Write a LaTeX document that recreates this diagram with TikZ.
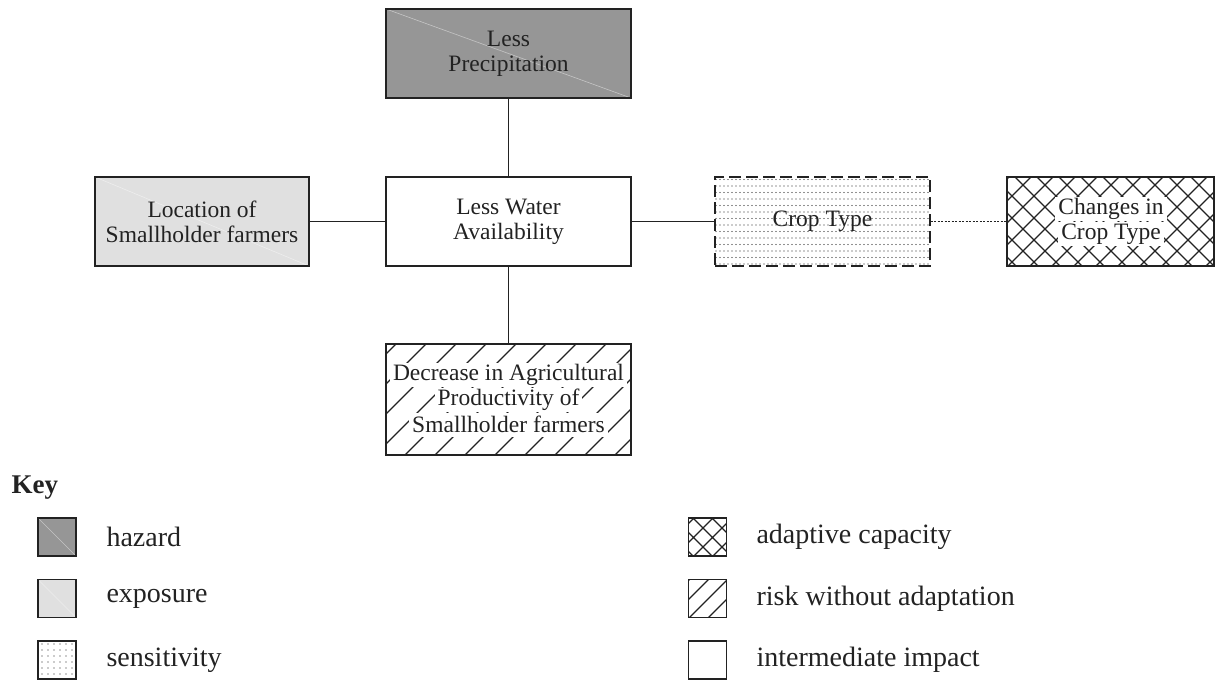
\documentclass[tikz,border=0pt]{standalone}
\usepackage{fontspec}
\setmainfont{Liberation Serif}
\usetikzlibrary{patterns}
\pgfdeclarepatternformonly{boxdots}{\pgfqpoint{-1pt}{-1pt}}{\pgfqpoint{3pt}{5.5pt}}{\pgfqpoint{4pt}{6.5pt}}{%
  \pgfpathcircle{\pgfqpoint{0pt}{0pt}}{0.7pt}\pgfusepath{fill}}
\pgfdeclarepatternformonly{keydots}{\pgfqpoint{-1pt}{-1pt}}{\pgfqpoint{5pt}{5pt}}{\pgfqpoint{6pt}{6pt}}{%
  \pgfpathcircle{\pgfqpoint{0pt}{0pt}}{0.7pt}\pgfusepath{fill}}
\pgfdeclarepatternformonly{xhatch}{\pgfqpoint{-1pt}{-1pt}}{\pgfqpoint{23pt}{23pt}}{\pgfqpoint{22pt}{22pt}}{%
  \pgfsetlinewidth{1.3pt}%
  \pgfpathmoveto{\pgfqpoint{0pt}{0pt}}\pgfpathlineto{\pgfqpoint{22.1pt}{22.1pt}}%
  \pgfpathmoveto{\pgfqpoint{0pt}{22pt}}\pgfpathlineto{\pgfqpoint{22.1pt}{-0.1pt}}%
  \pgfusepath{stroke}}
\pgfdeclarepatternformonly{keyxhatch}{\pgfqpoint{-1pt}{-1pt}}{\pgfqpoint{20pt}{20pt}}{\pgfqpoint{19pt}{19pt}}{%
  \pgfsetlinewidth{1.2pt}%
  \pgfpathmoveto{\pgfqpoint{0pt}{0pt}}\pgfpathlineto{\pgfqpoint{19.1pt}{19.1pt}}%
  \pgfpathmoveto{\pgfqpoint{0pt}{19pt}}\pgfpathlineto{\pgfqpoint{19.1pt}{-0.1pt}}%
  \pgfusepath{stroke}}
\pgfdeclarepatternformonly{nehatch}{\pgfqpoint{-1pt}{-1pt}}{\pgfqpoint{31pt}{31pt}}{\pgfqpoint{30pt}{30pt}}{%
  \pgfsetlinewidth{1.2pt}%
  \pgfpathmoveto{\pgfqpoint{0pt}{0pt}}\pgfpathlineto{\pgfqpoint{30.1pt}{30.1pt}}%
  \pgfusepath{stroke}}
\pgfdeclarepatternformonly{keynehatch}{\pgfqpoint{-1pt}{-1pt}}{\pgfqpoint{20pt}{20pt}}{\pgfqpoint{19pt}{19pt}}{%
  \pgfsetlinewidth{1.2pt}%
  \pgfpathmoveto{\pgfqpoint{0pt}{0pt}}\pgfpathlineto{\pgfqpoint{19.1pt}{19.1pt}}%
  \pgfusepath{stroke}}
\definecolor{hazardgray}{HTML}{969696}
\definecolor{exposuregray}{HTML}{E0E0E0}
\definecolor{inkc}{HTML}{222222}
\begin{document}
\begin{tikzpicture}[x=1pt,y=-1pt,
  every node/.style={font=\fontsize{23.5}{25}\selectfont, text=inkc},
  box/.style={draw=inkc, line width=1.4pt, align=center, inner sep=0pt},
  conn/.style={draw=inkc, line width=1.2pt},
  faintdiag/.style={path picture={\draw[white, opacity=0.45, line width=0.6pt]
      (path picture bounding box.north west) -- (path picture bounding box.south east);}},
  txtbg/.style={fill=white, inner xsep=3pt, inner ysep=0pt, minimum height=24pt},
  keybox/.style={draw=inkc, line width=1.2pt, minimum width=38pt, minimum height=38pt, inner sep=0pt},
  keytext/.style={anchor=west, font=\fontsize{28}{30}\selectfont}
]
\useasboundingbox (0,0) rectangle (1216,680);

% main boxes
\node[box, fill=hazardgray, faintdiag, minimum width=245pt, minimum height=89pt] (prec) at (508.5,53.5) {Less\\Precipitation};
\node[box, fill=exposuregray, faintdiag, minimum width=214pt, minimum height=89pt] (loc) at (202,221.5) {Location of\\Smallholder farmers};
\node[box, fill=white, minimum width=245pt, minimum height=89pt] (water) at (508.5,221.5) {Less Water\\Availability};
\node[box, dashed, dash pattern=on 12pt off 5pt, pattern=boxdots, pattern color=inkc, minimum width=215pt, minimum height=89pt] (crop) at (822.5,221.5) {Crop Type};
\node[box, pattern=xhatch, pattern color=inkc, minimum width=207pt, minimum height=89pt] (chg) at (1110.5,221.5) {};
\node[txtbg] (chg1) at (1111,209) {Changes in};
\node[txtbg] (chg2) at (1111,234) {Crop Type};
\node[box, pattern=nehatch, pattern color=inkc, minimum width=245pt, minimum height=111pt] (dec) at (508.5,399.5) {};
\node[txtbg] (dec1) at (508.5,374.5) {Decrease in Agricultural};
\node[txtbg] (dec2) at (508.5,399.5) {Productivity of};
\node[txtbg] (dec3) at (508.5,424.5) {Smallholder farmers};

% connectors
\draw[conn] (prec.south) -- (water.north);
\draw[conn] (loc.east) -- (water.west);
\draw[conn] (water.east) -- (crop.west);
\draw[conn, dash pattern=on 2pt off 1.5pt] (crop.east) -- (chg.west);
\draw[conn] (water.south) -- (dec.north);

% key
\node[anchor=west, font=\fontsize{27}{30}\selectfont\bfseries] (keyt) at (8,488) {Key};
\node[keybox, fill=hazardgray, faintdiag] (k1) at (57,537) {};
\node[keytext] (k1t) at (103,537) {hazard};
\node[keybox, fill=exposuregray, faintdiag] (k2) at (57,598.5) {};
\node[keytext] (k2t) at (103,598.5) {exposure};
\node[keybox, pattern=keydots, pattern color=inkc] (k3) at (57,660) {};
\node[keytext] (k3t) at (103,660) {sensitivity};
\node[keybox, pattern=keyxhatch, pattern color=inkc] (k4) at (707.5,537) {};
\node[keytext] (k4t) at (753,537) {adaptive capacity};
\node[keybox, pattern=keynehatch, pattern color=inkc] (k5) at (707.5,598.5) {};
\node[keytext] (k5t) at (753,598.5) {risk without adaptation};
\node[keybox, fill=white] (k6) at (707.5,660) {};
\node[keytext] (k6t) at (753,660) {intermediate impact};
\end{tikzpicture}
\end{document}
